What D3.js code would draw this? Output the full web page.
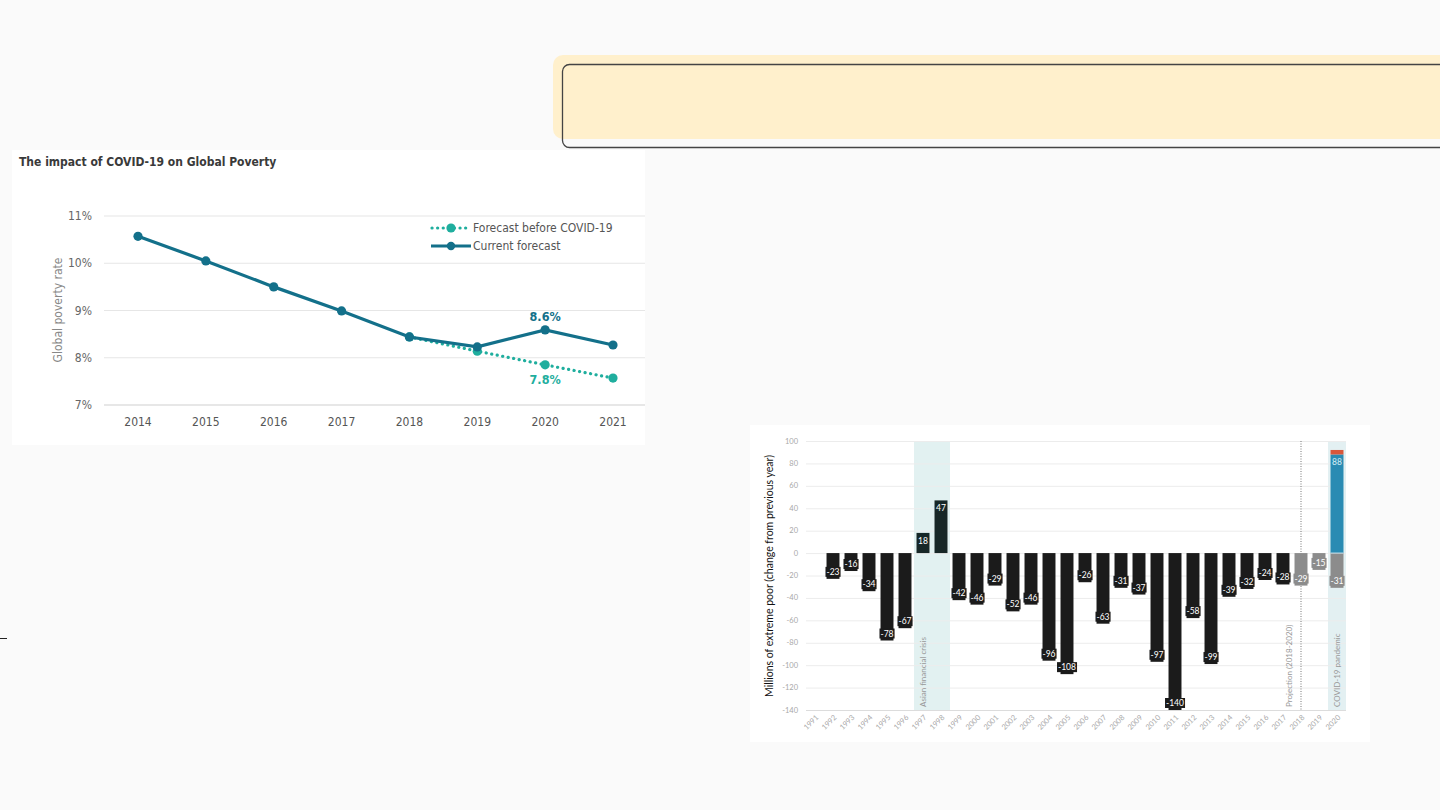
<!DOCTYPE html>
<html><head><meta charset="utf-8">
<script src="https://cdn.jsdelivr.net/npm/d3@7"></script>
<style>
html,body{margin:0;padding:0;background:#fafafa;}
svg{display:block;}
</style></head>
<body>
<svg id="c" width="1440" height="810"></svg>
<script>
// ---- Left chart data ----
const povYears = [2014, 2015, 2016, 2017, 2018, 2019, 2020, 2021];
const currentForecast = [10.57, 10.05, 9.50, 8.99, 8.44, 8.23, 8.59, 8.27];
const preCovidForecast = [null, null, null, null, 8.44, 8.14, 7.85, 7.57];
const povTicks = [7, 8, 9, 10, 11];
const povLabels = [{year: 2020, series: "current", text: "8.6%"}, {year: 2020, series: "pre", text: "7.8%"}];
const povLegend = ["Forecast before COVID-19", "Current forecast"];

// ---- Right chart data ----
const poorYears = ["1991","1992","1993","1994","1995","1996","1997","1998","1999","2000","2001","2002","2003","2004","2005","2006","2007","2008","2009","2010","2011","2012","2013","2014","2015","2016","2017","2018","2019","2020"];
const poorChange = [null, -23, -16, -34, -78, -67, 18, 47, -42, -46, -29, -52, -46, -96, -108, -26, -63, -31, -37, -97, -140, -58, -99, -39, -32, -24, -28, -29, -15, -31];
const projectedYears = ["2018", "2019", "2020"];
const crisisYears = ["1997", "1998"];
const covidIncrease = 88;
const covidExtra = 4;
const poorTicks = [100, 80, 60, 40, 20, 0, -20, -40, -60, -80, -100, -120, -140];

const svg = d3.select("#c");

// ---- Header box ----
svg.append("rect").attr("x", 553).attr("y", 55).attr("width", 900).attr("height", 84)
  .attr("rx", 10).attr("fill", "#fff0cc");
svg.append("rect").attr("x", 562.5).attr("y", 64.5).attr("width", 900).attr("height", 83)
  .attr("rx", 7).attr("fill", "none").attr("stroke", "#444").attr("stroke-width", 1.3);
// small mark at left edge
svg.append("line").attr("x1", 0).attr("x2", 7).attr("y1", 638.5).attr("y2", 638.5)
  .attr("stroke", "#222").attr("stroke-width", 1);

// ================= LEFT CHART =================
const L = svg.append("g");
L.append("rect").attr("x", 12).attr("y", 150).attr("width", 633).attr("height", 295).attr("fill", "#fff");
L.append("text").attr("x", 19).attr("y", 166).text("The impact of COVID-19 on Global Poverty")
  .attr("font-family", "'DejaVu Sans Condensed','DejaVu Sans',sans-serif").attr("font-weight", "bold")
  .attr("font-size", 12).attr("fill", "#3a3a3a");

const lx = d3.scalePoint().domain(povYears).range([138, 613]);
const ly = d3.scaleLinear().domain([7, 11]).range([405, 216]);
const fontL = "'DejaVu Sans Condensed','DejaVu Sans',sans-serif";

L.append("g").selectAll("line").data(povTicks).join("line")
  .attr("x1", 104).attr("x2", 645).attr("y1", d => ly(d)).attr("y2", d => ly(d))
  .attr("stroke", d => d === 7 ? "#cfcfcf" : "#e6e6e6").attr("stroke-width", 1.2);
L.append("g").selectAll("text").data(povTicks).join("text")
  .attr("x", 92).attr("y", d => ly(d) + 4).attr("text-anchor", "end")
  .attr("font-family", fontL).attr("font-size", 12).attr("fill", "#666").text(d => d + "%");
L.append("g").selectAll("text").data(povYears).join("text")
  .attr("x", d => lx(d)).attr("y", 426).attr("text-anchor", "middle")
  .attr("font-family", fontL).attr("font-size", 12).attr("fill", "#555").text(d => d);
L.append("text").attr("transform", "translate(62,310) rotate(-90)").attr("text-anchor", "middle")
  .attr("font-family", fontL).attr("font-size", 12).attr("fill", "#888").text("Global poverty rate");

const colCur = "#13708a", colPre = "#1fae9e";
const preData = povYears.map((y, i) => ({y, v: preCovidForecast[i]})).filter(d => d.v != null);
const curData = povYears.map((y, i) => ({y, v: currentForecast[i]}));
const line = d3.line().x(d => lx(d.y)).y(d => ly(d.v));

L.append("path").datum(preData).attr("d", line).attr("fill", "none").attr("stroke", colPre)
  .attr("stroke-width", 3.2).attr("stroke-dasharray", "0.1,5.5").attr("stroke-linecap", "round");
L.append("g").selectAll("circle").data(preData).join("circle")
  .attr("cx", d => lx(d.y)).attr("cy", d => ly(d.v)).attr("r", 4.6).attr("fill", colPre);
L.append("path").datum(curData).attr("d", line).attr("fill", "none").attr("stroke", colCur)
  .attr("stroke-width", 3.2);
L.append("g").selectAll("circle").data(curData).join("circle")
  .attr("cx", d => lx(d.y)).attr("cy", d => ly(d.v)).attr("r", 4.6).attr("fill", colCur);

povLabels.forEach(l => {
  const i = povYears.indexOf(l.year);
  const v = l.series === "current" ? currentForecast[i] : preCovidForecast[i];
  L.append("text").attr("x", lx(l.year)).attr("y", l.series === "current" ? ly(v) - 9 : ly(v) + 19)
    .attr("text-anchor", "middle").attr("font-family", fontL).attr("font-weight", "bold")
    .attr("font-size", 12.5).attr("fill", l.series === "current" ? colCur : colPre).text(l.text);
});

// legend
L.append("line").attr("x1", 432).attr("x2", 470).attr("y1", 228).attr("y2", 228)
  .attr("stroke", colPre).attr("stroke-width", 3.2).attr("stroke-dasharray", "0.1,5.5").attr("stroke-linecap", "round");
L.append("circle").attr("cx", 451).attr("cy", 228).attr("r", 4.6).attr("fill", colPre);
L.append("line").attr("x1", 431).attr("x2", 471).attr("y1", 246).attr("y2", 246)
  .attr("stroke", colCur).attr("stroke-width", 3.2);
L.append("circle").attr("cx", 451).attr("cy", 246).attr("r", 4.2).attr("fill", colCur);
L.append("g").selectAll("text").data(povLegend).join("text")
  .attr("x", 473).attr("y", (d, i) => 232 + i * 18).attr("font-family", fontL)
  .attr("font-size", 12).attr("fill", "#555").text(d => d);

// ================= RIGHT CHART =================
const R = svg.append("g");
const fontR = "Lato,'Open Sans',sans-serif";
R.append("rect").attr("x", 750).attr("y", 425).attr("width", 620).attr("height", 317).attr("fill", "#fff");

const rx = d3.scaleBand().domain(poorYears).range([806, 1346]).paddingInner(0.28).paddingOuter(0.14);
const ry = d3.scaleLinear().domain([-140, 100]).range([710, 441]);
const gap = (rx.step() - rx.bandwidth()) / 2;

// bands
R.append("rect").attr("x", rx(crisisYears[0]) - gap).attr("y", ry(100))
  .attr("width", rx(crisisYears[1]) + rx.bandwidth() + gap - (rx(crisisYears[0]) - gap))
  .attr("height", ry(-140) - ry(100)).attr("fill", "#e2f1f1");
R.append("rect").attr("x", rx("2020") - gap).attr("y", ry(100))
  .attr("width", rx.step()).attr("height", ry(-140) - ry(100)).attr("fill", "#e3f0f2");

// gridlines
R.append("g").selectAll("line").data(poorTicks).join("line")
  .attr("x1", 806).attr("x2", 1346).attr("y1", d => ry(d) + 0.5).attr("y2", d => ry(d) + 0.5)
  .attr("stroke", "#ececec").attr("stroke-width", 1);
R.append("line").attr("x1", 806).attr("x2", 1346).attr("y1", ry(-140) + 0.5).attr("y2", ry(-140) + 0.5)
  .attr("stroke", "#dcdcdc");

// y tick labels
R.append("g").selectAll("text").data(poorTicks).join("text")
  .attr("x", 798).attr("y", d => ry(d) + 2.5).attr("text-anchor", "end")
  .attr("font-family", fontR).attr("font-size", 7.5).attr("fill", "#a8a8a8").text(d => d);
// x tick labels
R.append("g").selectAll("text").data(poorYears).join("text")
  .attr("transform", d => `translate(${rx(d) + rx.bandwidth() / 2 + 4},${718}) rotate(-45)`)
  .attr("text-anchor", "end").attr("font-family", fontR).attr("font-size", 7.5).attr("fill", "#a8a8a8").text(d => d);
// y title
R.append("text").attr("transform", "translate(773,576) rotate(-90)").attr("text-anchor", "middle")
  .attr("font-family", fontR).attr("font-size", 10.5).attr("fill", "#111")
  .text("Millions of extreme poor (change from previous year)");

// projection line
R.append("line").attr("x1", rx("2018") + rx.bandwidth() / 2).attr("x2", rx("2018") + rx.bandwidth() / 2)
  .attr("y1", ry(100)).attr("y2", ry(-140)).attr("stroke", "#777").attr("stroke-width", 1)
  .attr("stroke-dasharray", "1,1.5");

// band texts
R.append("text").attr("transform", `translate(${(rx("1997") + rx("1998") + rx.bandwidth()) / 2 - 6},707) rotate(-90)`)
  .attr("font-family", fontR).attr("font-size", 8).attr("fill", "#999").text("Asian financial crisis");
R.append("text").attr("transform", `translate(${rx("2018") - 3},707) rotate(-90)`)
  .attr("font-family", fontR).attr("font-size", 8).attr("fill", "#999").text("Projection (2018-2020)");
R.append("text").attr("transform", `translate(${rx("2020") + rx.bandwidth() / 2 + 3},707) rotate(-90)`)
  .attr("font-family", fontR).attr("font-size", 8).attr("fill", "#999").text("COVID-19 pandemic");

// bars
const barData = poorYears.map((y, i) => ({y, v: poorChange[i]})).filter(d => d.v != null);
const barColor = d => projectedYears.includes(d.y) ? "#8c8c8c" : (crisisYears.includes(d.y) ? "#172727" : "#1b1b1b");
R.append("g").selectAll("rect").data(barData).join("rect")
  .attr("x", d => rx(d.y)).attr("width", rx.bandwidth())
  .attr("y", d => ry(Math.max(0, d.v))).attr("height", d => Math.abs(ry(d.v) - ry(0)))
  .attr("fill", barColor);
// covid stacked
R.append("rect").attr("x", rx("2020")).attr("width", rx.bandwidth())
  .attr("y", ry(covidIncrease)).attr("height", ry(0) - ry(covidIncrease)).attr("fill", "#2a8bb3");
R.append("rect").attr("x", rx("2020")).attr("width", rx.bandwidth())
  .attr("y", ry(covidIncrease + covidExtra)).attr("height", ry(covidIncrease) - ry(covidIncrease + covidExtra)).attr("fill", "#d8573b");
R.append("line").attr("x1", rx("2020")).attr("x2", rx("2020") + rx.bandwidth())
  .attr("y1", ry(0)).attr("y2", ry(0)).attr("stroke", "#cfe6ee").attr("stroke-width", 1);

// bar labels
const labG = R.append("g");
const labels = barData.map(d => ({x: rx(d.y) + rx.bandwidth() / 2, y: d.v < 0 ? ry(d.v) - 4 : ry(d.v) + 11, t: d.v, c: barColor(d)}));
labels.push({x: rx("2020") + rx.bandwidth() / 2, y: ry(covidIncrease) + 11, t: covidIncrease, c: "#2a8bb3", fc: "#d6eef6"});
labels.forEach(l => {
  const t = labG.append("text").attr("x", l.x).attr("y", l.y).attr("text-anchor", "middle")
    .attr("font-family", fontR).attr("font-size", 8.5).attr("fill", l.fc || "#fff").text(l.t);
  const b = t.node().getBBox();
  labG.insert("rect", () => t.node()).attr("x", b.x - 1).attr("y", b.y).attr("width", b.width + 2)
    .attr("height", b.height).attr("fill", l.c);
});
</script>
</body></html>
